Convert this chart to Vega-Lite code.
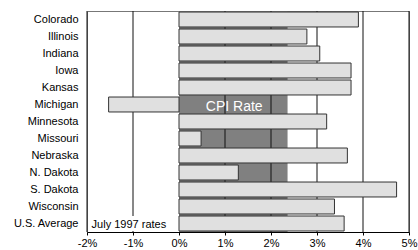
{
  "$schema": "https://vega.github.io/schema/vega-lite/v6.json",
  "width": 322,
  "height": 221,
  "autosize": {"type": "none"},
  "padding": {"left": 87, "top": 11, "right": 9, "bottom": 18},
  "background": "white",
  "config": {
    "font": "Liberation Sans",
    "view": {"stroke": "#777", "strokeWidth": 1}
  },
  "datasets": {
    "states": [
      {"state": "Colorado", "rate": 3.9},
      {"state": "Illinois", "rate": 2.78},
      {"state": "Indiana", "rate": 3.06},
      {"state": "Iowa", "rate": 3.74},
      {"state": "Kansas", "rate": 3.74},
      {"state": "Michigan", "rate": -1.53},
      {"state": "Minnesota", "rate": 3.21},
      {"state": "Missouri", "rate": 0.48},
      {"state": "Nebraska", "rate": 3.66},
      {"state": "N. Dakota", "rate": 1.29},
      {"state": "S. Dakota", "rate": 4.73},
      {"state": "Wisconsin", "rate": 3.38},
      {"state": "U.S. Average", "rate": 3.59}
    ],
    "cpi": [{"start": 0, "end": 2.36}],
    "grid": [{"v": -2}, {"v": -1}, {"v": 1}, {"v": 2}, {"v": 3}, {"v": 4}, {"v": 5}],
    "cpiLabel": [{"label": "CPI Rate", "x": 1.2, "state": "Michigan"}],
    "noteLabel": [{"label": "July 1997 rates", "x": -1.9, "start": -1.97, "end": -0.06, "state": "U.S. Average"}]
  },
  "layer": [
    {
      "data": {"name": "cpi"},
      "mark": {"type": "rect", "fill": "#808080"},
      "encoding": {
        "x": {"field": "start", "type": "quantitative", "scale": {"domain": [-2, 5], "nice": false}},
        "x2": {"field": "end"}
      }
    },
    {
      "data": {"name": "grid"},
      "mark": {"type": "rule", "color": "#111", "strokeWidth": 1},
      "encoding": {
        "x": {"field": "v", "type": "quantitative"}
      }
    },
    {
      "data": {"name": "states"},
      "mark": {"type": "bar", "fill": "#e0e0e0", "stroke": "#333", "strokeWidth": 1},
      "encoding": {
        "y": {
          "field": "state", "type": "nominal", "sort": null, "title": null,
          "scale": {"paddingInner": 0.12, "paddingOuter": 0.06},
          "axis": {"domain": false, "ticks": false, "labelFontSize": 11, "labelColor": "#000", "labelPadding": 9}
        },
        "x": {
          "field": "rate", "type": "quantitative", "title": null,
          "scale": {"domain": [-2, 5], "nice": false, "zero": true},
          "axis": {
            "values": [-2, -1, 0, 1, 2, 3, 4, 5],
            "labelExpr": "datum.value + '%'",
            "labelFlush": false, "labelOverlap": false,
            "grid": false, "domainColor": "#000", "tickColor": "#000", "tickSize": 3,
            "labelFontSize": 11, "labelColor": "#000", "labelPadding": 2
          }
        }
      }
    },
    {
      "data": {"name": "cpiLabel"},
      "mark": {"type": "text", "fontSize": 14, "align": "center", "baseline": "middle", "color": "white", "dy": 2},
      "encoding": {
        "x": {"field": "x", "type": "quantitative"},
        "y": {"field": "state", "type": "nominal", "sort": null},
        "text": {"field": "label"}
      }
    },
    {
      "data": {"name": "noteLabel"},
      "mark": {"type": "rect", "fill": "white"},
      "encoding": {
        "x": {"field": "start", "type": "quantitative"},
        "x2": {"field": "end"},
        "y": {"field": "state", "type": "nominal", "sort": null}
      }
    },
    {
      "data": {"name": "noteLabel"},
      "mark": {"type": "text", "fontSize": 11, "align": "left", "baseline": "middle", "color": "black", "dy": 1},
      "encoding": {
        "x": {"field": "x", "type": "quantitative"},
        "y": {"field": "state", "type": "nominal", "sort": null},
        "text": {"field": "label"}
      }
    }
  ]
}
